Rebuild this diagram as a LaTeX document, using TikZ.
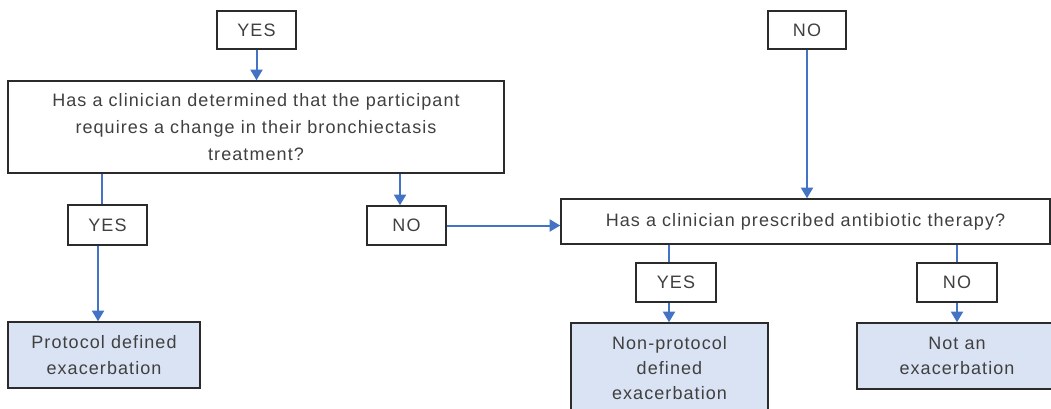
\documentclass[tikz,border=0pt]{standalone}
\usepackage{fontspec}
\setmainfont{Liberation Sans}[LetterSpace=6]
\usetikzlibrary{arrows.meta}
\definecolor{arrowc}{HTML}{4472C4}
\definecolor{boxc}{HTML}{2B2B2B}
\definecolor{textc}{HTML}{404040}
\definecolor{fillc}{HTML}{DAE3F3}
\tikzset{
  box/.style={draw=boxc, line width=1.1pt, fill=white, text=textc, align=center, inner sep=0pt,
    font=\fontsize{13.5}{20}\selectfont},
  result/.style={box, fill=fillc, font=\fontsize{13.5}{19}\selectfont},
  conn/.style={draw=arrowc, line width=1.5pt},
  arr/.style={conn, -{Triangle[width=9pt,length=8pt]}}
}
\begin{document}
\begin{tikzpicture}[x=0.75pt,y=-0.75pt]
\useasboundingbox (0,0) rectangle (1051,408);
\clip (0,0) rectangle (1051,408);
% top row
\node[box, minimum width=79*0.75pt, minimum height=38*0.75pt] (yes0) at (256.5,30) {YES};
\node[box, minimum width=78*0.75pt, minimum height=38*0.75pt] (no0) at (807,30) {NO};
% first question
\node[box, minimum width=496*0.75pt, minimum height=92*0.75pt] (q1) at (256,127)
  {Has a clinician determined that the participant\\requires a change in their bronchiectasis\\treatment?};
\node[box, minimum width=79*0.75pt, minimum height=40*0.75pt] (yes1) at (107.5,225) {YES};
\node[box, minimum width=79*0.75pt, minimum height=39*0.75pt] (no1) at (406.5,225.5) {NO};
\node[result, minimum width=192*0.75pt, minimum height=66*0.75pt] (prot) at (104,355) {Protocol defined\\exacerbation};
% second question
\node[box, minimum width=489*0.75pt, minimum height=45*0.75pt] (q2) at (805.5,221.5) {Has a clinician prescribed antibiotic therapy?};
\node[box, minimum width=80*0.75pt, minimum height=39*0.75pt] (yes2) at (676,282.5) {YES};
\node[box, minimum width=80*0.75pt, minimum height=39*0.75pt] (no2) at (957,282.5) {NO};
\node[result, minimum width=197*0.75pt, minimum height=90*0.75pt] (nonprot) at (669.5,368) {Non-protocol\\defined\\exacerbation};
\node[result, minimum width=200*0.75pt, minimum height=66*0.75pt] (notex) at (957,356) {Not an\\exacerbation};
% connectors
\draw[arr] (yes0.south) -- (q1.north -| yes0.south);
\draw[conn] (q1.south -| yes1.north) ++(-5.5,0) coordinate (l1) -- (l1 |- yes1.north);
\draw[arr] (yes1.south) ++(-9.5,0) coordinate (l2) -- (l2 |- prot.north);
\draw[arr] (q1.south -| 400,0) coordinate (l3) -- (l3 |- no1.north);
\draw[arr] (no1.east) -- (no1.east -| q2.west);
\draw[arr] (no0.south) -- (q2.north -| no0.south);
\draw[conn] (q2.south -| 669,0) coordinate (l4) -- (l4 |- yes2.north);
\draw[arr] (yes2.south -| 669,0) coordinate (l5) -- (l5 |- nonprot.north);
\draw[conn] (q2.south -| no2.north) -- (no2.north);
\draw[arr] (no2.south) -- (notex.north -| no2.south);
\end{tikzpicture}
\end{document}
